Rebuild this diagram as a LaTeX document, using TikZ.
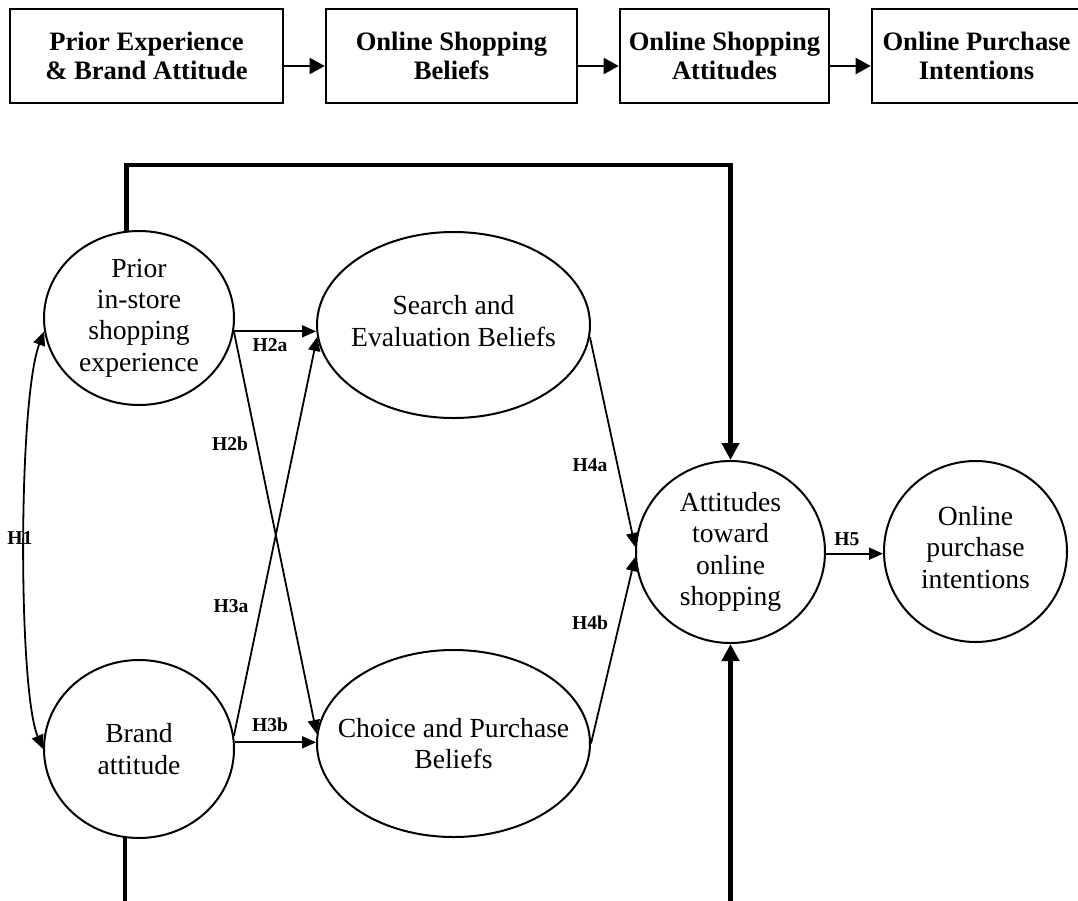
\documentclass[tikz,border=0pt]{standalone}
\usepackage{fontspec}
\setmainfont{Liberation Serif}
\usetikzlibrary{shapes.geometric,arrows.meta}
\begin{document}
\begin{tikzpicture}[x=0.5pt,y=-0.5pt,
  stagebox/.style={draw,line width=1.3pt,rectangle,minimum height=47pt,inner sep=0pt,
    align=center,font=\fontsize{13.3}{14.8}\selectfont\bfseries},
  construct/.style={draw,line width=1pt,ellipse,inner sep=0pt},
  constructtext/.style={inner sep=0pt,align=center,font=\fontsize{13.8}{15.7}\selectfont},
  link/.style={line width=0.9pt,-{Triangle[length=7pt,width=6pt]}},
  stagelink/.style={line width=1pt,-{Triangle[length=7.5pt,width=8pt]}},
  direct/.style={line width=2.3pt},
  directarrow/.style={line width=2.3pt,-{Triangle[length=8.5pt,width=8.5pt]}},
  hyp/.style={inner sep=0pt,font=\fontsize{9.8}{11}\selectfont\bfseries}]
\useasboundingbox (0,0) rectangle (1078,901);

% research stages
\node[stagebox,minimum width=136.5pt] (s1) at (146.5,56) {Prior Experience\\\& Brand Attitude};
\node[stagebox,minimum width=125.5pt] (s2) at (451.5,56) {Online Shopping\\Beliefs};
\node[stagebox,minimum width=104.5pt] (s3) at (724.5,56) {Online Shopping\\Attitudes};
\node[stagebox,minimum width=104.5pt] (s4) at (976.5,56) {Online Purchase\\Intentions};
\draw[stagelink] ([yshift=-5pt]s1.east) -- ([yshift=-5pt]s2.west);
\draw[stagelink] ([yshift=-5pt]s2.east) -- ([yshift=-5pt]s3.west);
\draw[stagelink] ([yshift=-5pt]s3.east) -- ([yshift=-5pt]s4.west);

% constructs: fixed-size ellipses with their captions set on top
\node[construct,minimum width=95pt,minimum height=87pt] (prior) at (139,318) {};
\node[construct,minimum width=95pt,minimum height=89pt] (brand) at (139,749) {};
\node[construct,minimum width=136.5pt,minimum height=93pt] (search) at (453.5,325) {};
\node[construct,minimum width=136.5pt,minimum height=93.5pt] (choice) at (453.5,743.5) {};
\node[construct,minimum width=94.5pt,minimum height=91pt] (attitude) at (730.5,552) {};
\node[construct,minimum width=91.5pt,minimum height=90.5pt] (intent) at (975.5,551.5) {};

\node[constructtext] (prior-text) at (prior) {Prior\\in-store\\shopping\\experience};
\node[constructtext] (brand-text) at (brand) {Brand\\attitude};
\node[constructtext] (search-text) at ([yshift=2pt]search.center) {Search and\\Evaluation Beliefs};
\node[constructtext] (choice-text) at (choice) {Choice and Purchase\\Beliefs};
\node[constructtext] (attitude-text) at (attitude) {Attitudes\\toward\\online\\shopping};
\node[constructtext] (intent-text) at ([yshift=2pt]intent.center) {Online\\purchase\\intentions};

% hypothesised paths
\draw[line width=0.9pt,{Triangle[length=7pt,width=6pt]}-{Triangle[length=7pt,width=6pt]}]
  (prior.188.5) .. controls (18,400) and (18,690) .. (brand.west);
\draw[link] (prior.-8.5) -- (prior.-8.5 -| search.west);
\draw[link] (prior.-8.5) -- (choice.176.8);
\draw[link] (brand.8.5) -- (search.185.5);
\draw[link] (brand.4.2) -- (brand.4.2 -| choice.west);
\draw[link] (search.-5) -- (attitude.177);
\draw[link] (choice.east) -- (attitude.183);
\draw[link] (attitude.-1.5) -- (attitude.-1.5 -| intent.west);

% direct effects drawn as heavy lines
\coordinate (topright) at (730.5,165);
\coordinate (bottomleft) at (126,906);
\coordinate (bottomright) at (730.5,906);
\draw[directarrow] (prior.98.6) |- (topright) -- (attitude.north);
\draw[direct] (brand.261.6) -- (brand.261.6 |- bottomleft);
\draw[directarrow] (bottomright) -- (attitude.south);

% hypothesis labels
\node[hyp] (h1) at (20,538) {H1};
\node[hyp] (h2a) at (270,345) {H2a};
\node[hyp] (h2b) at (230,444) {H2b};
\node[hyp] (h3a) at (231,606) {H3a};
\node[hyp] (h3b) at (270,725) {H3b};
\node[hyp] (h4a) at (590,465) {H4a};
\node[hyp] (h4b) at (590,623) {H4b};
\node[hyp] (h5) at (847,539) {H5};
\end{tikzpicture}
\end{document}
